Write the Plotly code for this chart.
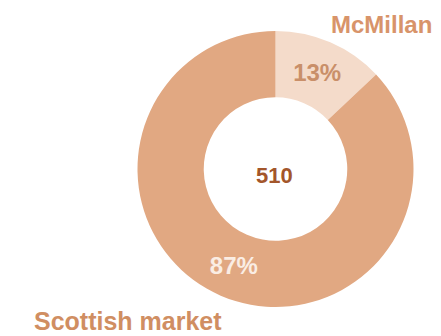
import plotly.graph_objects as go

labels = ["McMillan", "Scottish market"]
values = [13, 87]
total_label = "510"
slice_colors = ["#F4DBCA", "#E1A882"]
text_colors = ["#C98F69", "#FAEDE4"]

W, H = 441, 336
OFF = 8  # page body offset in the browser
cx, cy, r = 275.5 - OFF, 169 - OFF, 138


def px(x):
    return (x - OFF) / W


def py(y):
    return 1 - (y - OFF) / H


fig = go.Figure(go.Pie(
    labels=labels,
    values=values,
    hole=0.52,
    sort=False,
    direction="clockwise",
    rotation=0,
    marker=dict(colors=slice_colors, line=dict(width=0)),
    texttemplate="<b>%{percent:.0%}</b>",
    textposition="inside",
    insidetextorientation="horizontal",
    textfont=dict(family="Liberation Sans, Arial, sans-serif", size=24, color=text_colors),
    showlegend=False,
    hoverinfo="label+percent",
    domain=dict(x=[(cx - r) / W, (cx + r) / W], y=[(H - cy - r) / H, (H - cy + r) / H]),
))

fig.add_annotation(x=px(274), y=py(175), xref="paper", yref="paper",
                   xanchor="center", yanchor="middle",
                   text="<b>%s</b>" % total_label, showarrow=False,
                   font=dict(family="Liberation Sans, Arial, sans-serif", size=22, color="#A3562B"))
fig.add_annotation(x=px(381.5), y=py(24), xref="paper", yref="paper",
                   xanchor="center", yanchor="middle",
                   text="<b>%s</b>" % labels[0], showarrow=False,
                   font=dict(family="Liberation Sans, Arial, sans-serif", size=24, color="#D8946A"))
fig.add_annotation(x=px(127.5), y=py(321), xref="paper", yref="paper",
                   xanchor="center", yanchor="middle",
                   text="<b>%s</b>" % labels[1], showarrow=False,
                   font=dict(family="Liberation Sans, Arial, sans-serif", size=25, color="#D08E62"))

fig.update_layout(width=W, height=H, margin=dict(l=0, r=0, t=0, b=0),
                  paper_bgcolor="white", plot_bgcolor="white")
fig.write_html("out.html")
